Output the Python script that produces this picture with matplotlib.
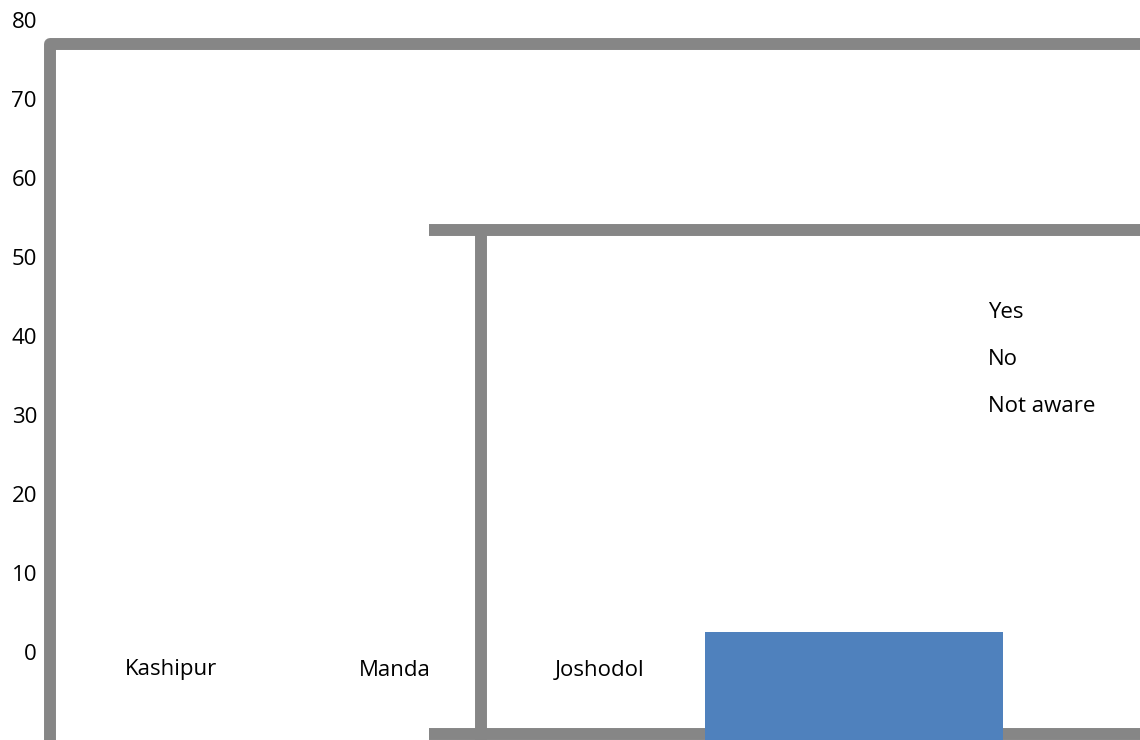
import numpy as np
import matplotlib.pyplot as plt

plt.rcParams['font.family'] = ['Open Sans', 'DejaVu Sans']

# data
categories = ['Kashipur', 'Manda', 'Joshodol']
legend_labels = ['Yes', 'No', 'Not aware']
yticks = [0, 10, 20, 30, 40, 50, 60, 70, 80]
bar_value = [2.5]

GRAY = '#868686'
BLUE = '#4F81BD'

fig = plt.figure(figsize=(11.4, 7.4), dpi=100)
ax = fig.add_axes([0, 0, 1, 1])

# y scale: 0 at 652px, 80 at 20px (7.9 px per unit)
ymin = -(740 - 652) / 7.9
ymax = 652 / 7.9
ax.set_ylim(ymin, ymax)
ax.set_xlim(0, 1140)

for s in ax.spines.values():
    s.set_visible(False)
ax.set_xticks([])
ax.set_yticks(yticks)
ax.tick_params(axis='y', length=0, pad=-26.6, labelsize=16)

lw = 8.6
# outer frame
ax.plot([50, 50, 1150], [ymin - 2, 76.9, 76.9], color=GRAY, lw=lw,
        solid_joinstyle='round', solid_capstyle='butt')
# inner frame
ax.plot([429, 1150], [53.4, 53.4], color=GRAY, lw=lw, solid_capstyle='butt')
ax.plot([481, 481], [53.4, ymin - 2], color=GRAY, lw=lw, solid_capstyle='butt')
ax.plot([429, 1150], [-10.4, -10.4], color=GRAY, lw=lw, solid_capstyle='butt')

# the single visible bar, running down past the bottom edge
heights = [v - ymin for v in bar_value]
ax.bar([854], heights, width=298, bottom=ymin,
       color=BLUE, edgecolor='none', zorder=3)

# category labels
for name, x in zip(categories, [171, 395, 600]):
    ax.text(x, (652 - 670) / 7.9, name, ha='center', va='center', fontsize=16)

# legend texts (no markers)
for i, lab in enumerate(legend_labels):
    ax.text(988, (652 - 312 - 47.5 * i) / 7.9, lab, ha='left', va='center',
            fontsize=16)

fig.savefig('out.png', dpi=100)
